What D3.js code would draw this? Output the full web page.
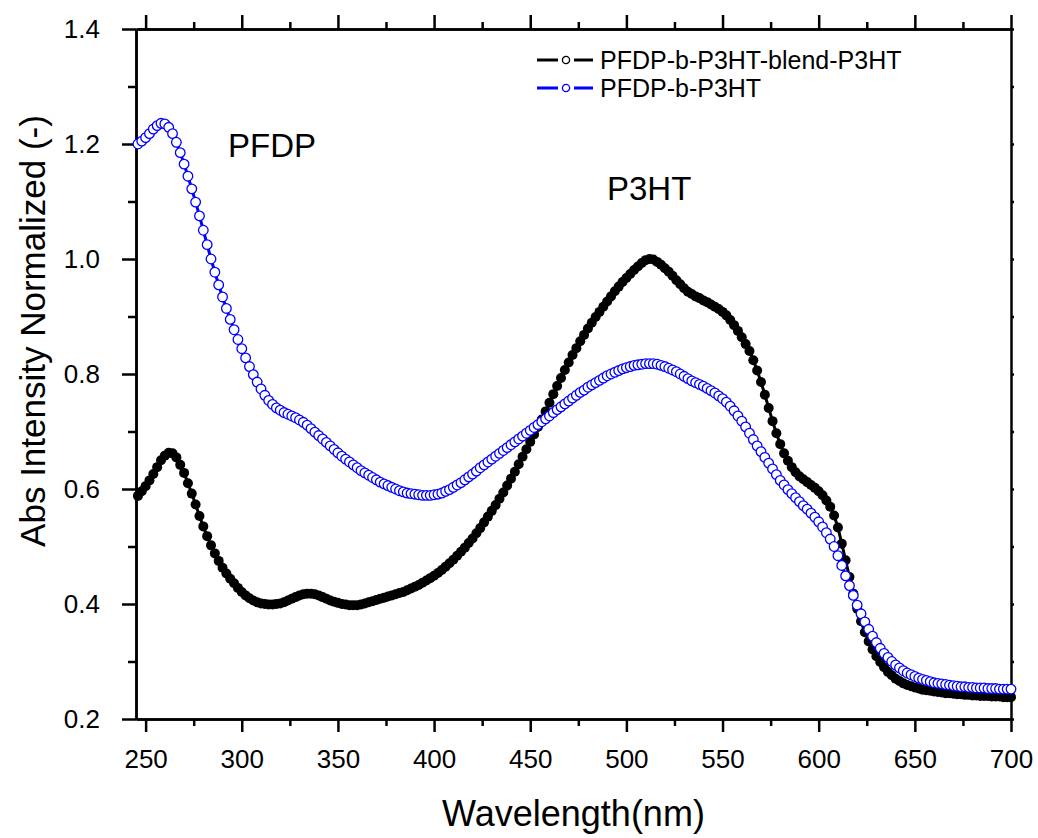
<!DOCTYPE html>
<html lang="en">
<head>
    <meta charset="UTF-8">
    <title>Abs Intensity Normalized</title>
    <script type="text/javascript" src="https://cdn.jsdelivr.net/npm/d3@7/dist/d3.min.js"></script>
</head>
<style>
    body{ margin:0; background:#fff; }
    .axis path,.axis line{
        fill:none;
        stroke:black;
        stroke-width:2.5;
    }
    .axis text{
        font-family: Arial, "Liberation Sans", sans-serif;
        font-size: 26px;
        fill:black;
    }
    .label{
        font-family: Arial, "Liberation Sans", sans-serif;
        fill:black;
    }
</style>
<body>

<script>
// data: absorbance read every 2 nm from 246 to 700 nm
    var wavelength = d3.range(246, 701, 2);

    var blend = [
        0.588,0.596,0.605,0.615,0.626,0.638,0.650,0.658,0.663,0.662,
        0.655,0.642,0.628,0.610,0.592,0.573,0.553,0.535,0.518,0.502,
        0.488,0.475,0.463,0.453,0.444,0.436,0.428,0.421,0.415,0.410,
        0.406,0.403,0.401,0.400,0.399,0.399,0.400,0.401,0.403,0.406,
        0.409,0.412,0.415,0.417,0.418,0.418,0.417,0.415,0.412,0.409,
        0.406,0.404,0.402,0.400,0.399,0.398,0.398,0.398,0.399,0.401,
        0.403,0.405,0.407,0.409,0.411,0.413,0.415,0.417,0.419,0.421,
        0.424,0.427,0.430,0.433,0.437,0.441,0.445,0.449,0.454,0.459,
        0.465,0.471,0.477,0.484,0.491,0.498,0.506,0.514,0.523,0.532,
        0.542,0.552,0.562,0.572,0.583,0.594,0.606,0.618,0.630,0.643,
        0.656,0.669,0.682,0.695,0.708,0.721,0.735,0.750,0.765,0.779,
        0.793,0.807,0.820,0.833,0.845,0.857,0.868,0.879,0.889,0.899,
        0.908,0.917,0.926,0.935,0.944,0.952,0.960,0.967,0.974,0.981,
        0.987,0.993,0.998,1.000,0.999,0.995,0.990,0.984,0.978,0.971,
        0.963,0.956,0.949,0.943,0.939,0.935,0.932,0.928,0.925,0.921,
        0.917,0.913,0.908,0.902,0.894,0.885,0.875,0.864,0.852,0.840,
        0.824,0.806,0.786,0.764,0.741,0.718,0.697,0.678,0.662,0.649,
        0.638,0.629,0.622,0.617,0.612,0.607,0.602,0.596,0.589,0.580,
        0.569,0.554,0.533,0.505,0.476,0.447,0.418,0.392,0.370,0.351,
        0.335,0.321,0.309,0.299,0.290,0.282,0.276,0.270,0.266,0.262,
        0.259,0.257,0.255,0.253,0.251,0.250,0.249,0.248,0.247,0.246,
        0.245,0.245,0.244,0.243,0.243,0.242,0.242,0.241,0.241,0.240,
        0.240,0.240,0.239,0.239,0.239,0.238,0.238,0.238
    ];

    var block = [
        1.200,1.205,1.211,1.218,1.226,1.232,1.236,1.235,1.229,1.218,
        1.203,1.185,1.165,1.144,1.122,1.099,1.075,1.050,1.025,1.000,
        0.977,0.955,0.934,0.914,0.895,0.877,0.860,0.844,0.828,0.813,
        0.799,0.786,0.774,0.763,0.754,0.747,0.741,0.737,0.733,0.730,
        0.727,0.724,0.720,0.716,0.711,0.705,0.699,0.693,0.687,0.681,
        0.675,0.669,0.663,0.657,0.652,0.647,0.642,0.637,0.632,0.628,
        0.624,0.620,0.616,0.612,0.609,0.606,0.603,0.600,0.597,0.595,
        0.593,0.592,0.591,0.590,0.589,0.589,0.589,0.590,0.591,0.593,
        0.596,0.599,0.603,0.607,0.611,0.616,0.621,0.626,0.631,0.637,
        0.642,0.647,0.652,0.657,0.662,0.667,0.672,0.677,0.682,0.687,
        0.692,0.697,0.702,0.707,0.712,0.717,0.722,0.727,0.733,0.738,
        0.743,0.748,0.753,0.758,0.763,0.768,0.772,0.777,0.781,0.785,
        0.789,0.793,0.797,0.800,0.803,0.806,0.809,0.811,0.813,0.815,
        0.816,0.817,0.818,0.818,0.818,0.817,0.815,0.813,0.810,0.807,
        0.804,0.800,0.796,0.792,0.788,0.785,0.782,0.779,0.775,0.771,
        0.767,0.762,0.757,0.751,0.744,0.736,0.727,0.718,0.708,0.697,
        0.686,0.675,0.665,0.655,0.645,0.635,0.625,0.615,0.607,0.599,
        0.592,0.585,0.578,0.571,0.565,0.558,0.551,0.543,0.534,0.524,
        0.513,0.500,0.484,0.467,0.449,0.432,0.415,0.398,0.383,0.369,
        0.356,0.344,0.333,0.323,0.314,0.307,0.300,0.294,0.289,0.284,
        0.280,0.277,0.274,0.271,0.269,0.267,0.265,0.263,0.262,0.261,
        0.260,0.259,0.258,0.257,0.256,0.256,0.255,0.255,0.254,0.254,
        0.254,0.253,0.253,0.253,0.252,0.252,0.252,0.252
    ];

    var seriesNames = ["PFDP-b-P3HT-blend-P3HT", "PFDP-b-P3HT"];
    var xTicks = [250, 300, 350, 400, 450, 500, 550, 600, 650, 700];
    var yTicks = [0.2, 0.4, 0.6, 0.8, 1.0, 1.2, 1.4];

//画布
    var width = 1038;
    var height = 838;
    var padL = 136, padT = 29, padR = 1011, padB = 719;   // 绘图区边界

    var svg = d3.select("body")
            .append("svg")
            .attr("width",width)
            .attr("height",height);

    svg.append("rect").attr("width",width).attr("height",height).attr("fill","white");

//比例尺
    var x = d3.scaleLinear().domain([245,700]).range([padL,padR]);
    var y = d3.scaleLinear().domain([0.2,1.4]).range([padB,padT]);

    var minorX = d3.range(275, 700, 50);
    var minorY = [0.3, 0.5, 0.7, 0.9, 1.1, 1.3];
    var allY = d3.range(2, 15).map(function(d){ return d/10; });

//坐标轴
    // bottom
    svg.append("g").attr("class","axis")
            .attr("transform","translate(0,"+padB+")")
            .call(d3.axisBottom(x).tickValues(minorX).tickSize(7).tickSizeOuter(0).tickFormat(""));
    svg.append("g").attr("class","axis")
            .attr("transform","translate(0,"+padB+")")
            .call(d3.axisBottom(x).tickValues(xTicks).tickSize(13).tickSizeOuter(0).tickPadding(18).tickFormat(d3.format("d")));
    // top
    svg.append("g").attr("class","axis")
            .attr("transform","translate(0,"+padT+")")
            .call(d3.axisTop(x).tickValues(minorX).tickSize(7).tickSizeOuter(0).tickFormat(""));
    svg.append("g").attr("class","axis")
            .attr("transform","translate(0,"+padT+")")
            .call(d3.axisTop(x).tickValues(xTicks).tickSize(14).tickSizeOuter(0).tickFormat(""));
    // left
    svg.append("g").attr("class","axis")
            .attr("transform","translate("+padL+",0)")
            .call(d3.axisLeft(y).tickValues(minorY).tickSize(8).tickSizeOuter(0).tickFormat(""));
    svg.append("g").attr("class","axis")
            .attr("transform","translate("+padL+",0)")
            .call(d3.axisLeft(y).tickValues(yTicks).tickSize(14).tickSizeOuter(0).tickPadding(22).tickFormat(d3.format(".1f")));
    // right
    svg.append("g").attr("class","axis")
            .attr("transform","translate("+padR+",0)")
            .call(d3.axisRight(y).tickValues(allY).tickSize(3).tickSizeOuter(0).tickFormat(""));

//曲线
    var lineGen = d3.line()
            .x(function(d,i){ return x(wavelength[i]); })
            .y(function(d){ return y(d); });

    svg.append("path").datum(blend)
            .attr("d",lineGen)
            .attr("fill","none").attr("stroke","black").attr("stroke-width",3);
    svg.selectAll("circle.blend")
            .data(blend).enter().append("circle")
            .attr("class","blend")
            .attr("cx",function(d,i){ return x(wavelength[i]); })
            .attr("cy",function(d){ return y(d); })
            .attr("r",5)
            .attr("fill","black");

    svg.append("path").datum(block)
            .attr("d",lineGen)
            .attr("fill","none").attr("stroke","#0000ff").attr("stroke-width",3);
    svg.selectAll("circle.block")
            .data(block).enter().append("circle")
            .attr("class","block")
            .attr("cx",function(d,i){ return x(wavelength[i]); })
            .attr("cy",function(d){ return y(d); })
            .attr("r",4.8)
            .attr("fill","white")
            .attr("stroke","#0000ff")
            .attr("stroke-width",1.3);

//图例
    var legendColors = ["black", "#0000ff"];
    var legend = svg.selectAll("g.legend")
            .data(seriesNames).enter().append("g")
            .attr("class","legend")
            .attr("transform",function(d,i){ return "translate(0,"+(60 + i*28)+")"; });
    legend.append("line").attr("x1",537).attr("x2",558).attr("y1",0).attr("y2",0)
            .attr("stroke",function(d,i){ return legendColors[i]; }).attr("stroke-width",3);
    legend.append("line").attr("x1",574).attr("x2",593).attr("y1",0).attr("y2",0)
            .attr("stroke",function(d,i){ return legendColors[i]; }).attr("stroke-width",3);
    legend.append("circle").attr("cx",566).attr("cy",0).attr("r",3.6)
            .attr("fill","white")
            .attr("stroke",function(d,i){ return legendColors[i]; }).attr("stroke-width",1.3);
    legend.append("text").attr("class","label")
            .attr("x",600).attr("y",8.5)
            .style("font-size","25px")
            .text(function(d){ return d; });

//标注
    svg.append("text").attr("class","label").attr("x",228).attr("y",157)
            .style("font-size","33px").text("PFDP");
    svg.append("text").attr("class","label").attr("x",607).attr("y",200)
            .style("font-size","33px").text("P3HT");

//轴标题
    svg.append("text").attr("class","label")
            .attr("x",(padL+padR)/2).attr("y",826)
            .attr("text-anchor","middle")
            .style("font-size","36px")
            .text("Wavelength(nm)");
    svg.append("text").attr("class","label")
            .attr("transform","translate(45,331) rotate(-90)")
            .attr("text-anchor","middle")
            .style("font-size","35px")
            .text("Abs Intensity Normalized (-)");

</script>
</body>
</html>
